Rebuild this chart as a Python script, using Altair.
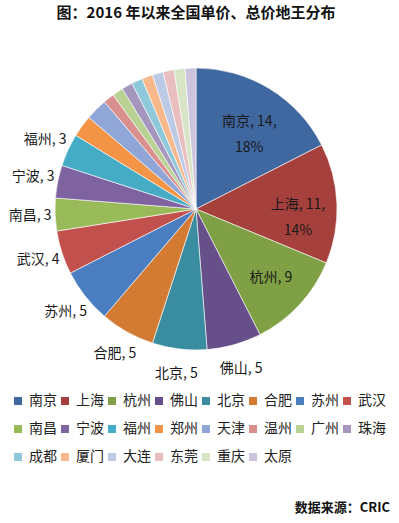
import altair as alt
import pandas as pd

cities = ["南京", "上海", "杭州", "佛山", "北京", "合肥", "苏州", "武汉",
          "南昌", "宁波", "福州", "郑州", "天津", "温州", "广州", "珠海",
          "成都", "厦门", "大连", "东莞", "重庆", "太原"]
counts = [14, 11, 9, 5, 5, 5, 5, 4, 3, 3, 3, 2, 2, 1, 1, 1, 1, 1, 1, 1, 1, 1]
colors = ["#3F67A0", "#A5403D", "#80A045", "#674F8A", "#3A8DA0", "#D47B33",
          "#4A7EC0", "#C2504D", "#99BA59", "#7F63A1", "#46ABC5", "#F39446",
          "#8FA6D6", "#D88F8D", "#B9D294", "#A596BD", "#8FC8DA", "#F8B88C",
          "#BCCAE6", "#E8BFBE", "#D8E4C6", "#CCC4DC"]

total = sum(counts)
rows = []
for i, (c, v) in enumerate(zip(cities, counts)):
    pct = round(v / total * 100 + 1e-9)
    inlab, outlab = "", ""
    if v >= 10:
        inlab = f"{c}, {v},\n{pct}%"
    elif v >= 9:
        inlab = f"{c}, {v}"
    elif v >= 3:
        outlab = f"{c}, {v}"
    rows.append({"city": c, "count": v, "order": i, "inlab": inlab, "outlab": outlab})
df = pd.DataFrame(rows)

FONT = "Noto Sans CJK SC"
CX, CY, R = 196, 209, 141

color_scale = alt.Scale(domain=cities, range=colors)

base = alt.Chart(df).encode(
    theta=alt.Theta("count:Q", stack=True),
    order=alt.Order("order:Q", sort="ascending"),
    x=alt.value(CX), y=alt.value(CY),
)

pie = base.mark_arc(outerRadius=R, stroke="#ffffff", strokeWidth=0.6).encode(
    color=alt.Color(
        "city:N", scale=color_scale, sort=cities,
        legend=alt.Legend(
            title=None, orient="none", legendX=11, legendY=394,
            direction="horizontal", columns=8, symbolType="square",
            symbolSize=64, symbolStrokeWidth=0, labelFont=FONT,
            labelFontSize=14, labelColor="#222222", labelOffset=4,
            columnPadding=1, rowPadding=14, labelLimit=60,
        ),
    ),
)

inside = base.mark_text(
    radius=102, font=FONT, fontSize=14, color="#1a1a1a", lineBreak="\n",
    lineHeight=26, align="center", baseline="middle",
).encode(text="inlab:N")

outside = base.mark_text(
    radius=166, font=FONT, fontSize=14, color="#1a1a1a",
    align="center", baseline="middle",
).encode(text="outlab:N")

title = alt.Chart(pd.DataFrame({"t": ["图：2016 年以来全国单价、总价地王分布"]})).mark_text(
    font=FONT, fontSize=15, fontWeight="bold", color="#111111",
    align="center", baseline="middle",
).encode(x=alt.value(196), y=alt.value(13), text="t:N")

source = alt.Chart(pd.DataFrame({"t": ["数据来源：CRIC"]})).mark_text(
    font=FONT, fontSize=13, fontWeight="bold", color="#111111",
    align="right", baseline="middle",
).encode(x=alt.value(390), y=alt.value(508), text="t:N")

chart = alt.layer(pie, inside, outside, title, source).properties(
    width=399, height=523, padding=0, autosize=alt.AutoSizeParams(type="none"),
    background="#ffffff",
).configure_view(stroke=None)

chart.save("out.html", embed_options={"renderer": "svg", "actions": False})
